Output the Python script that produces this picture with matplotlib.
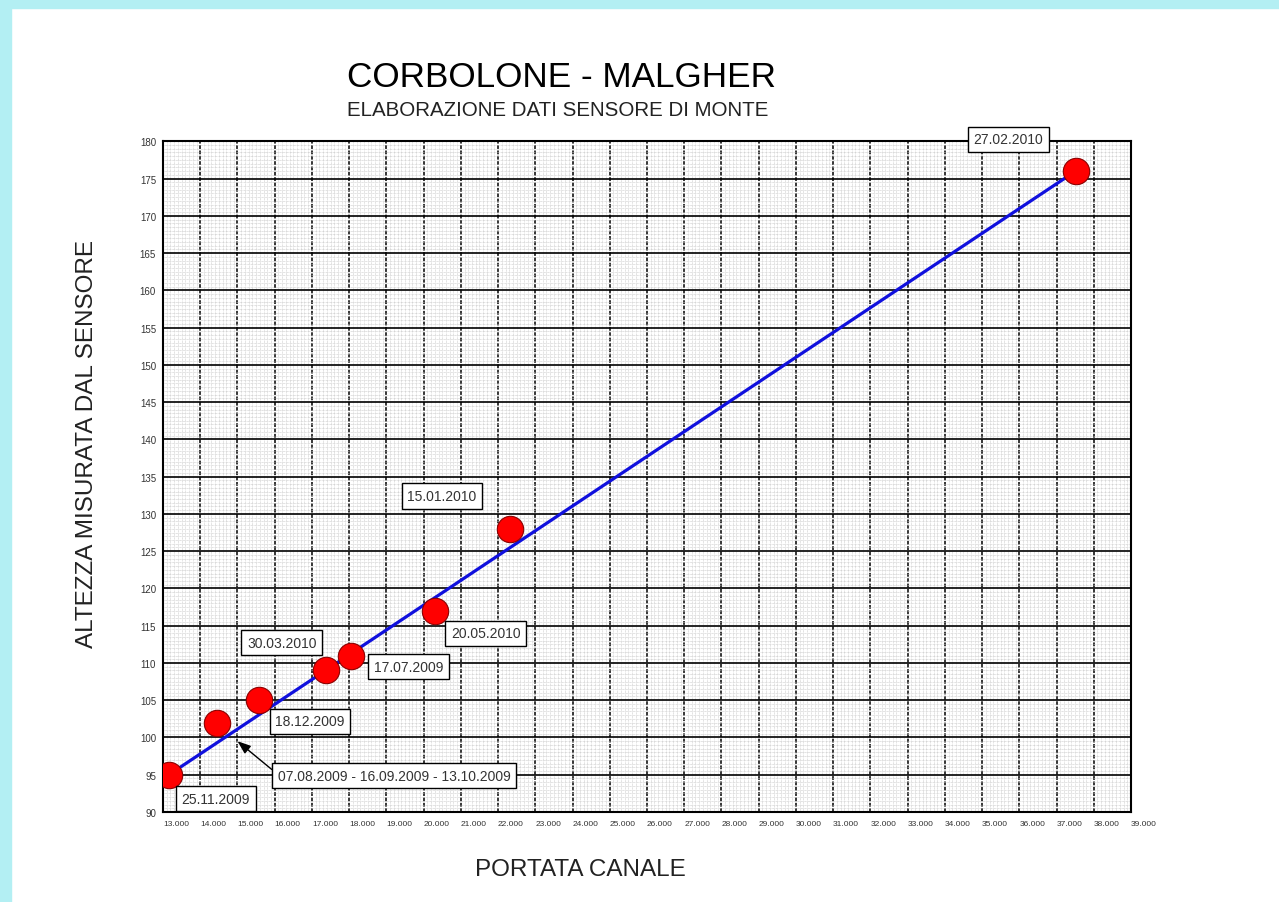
import numpy as np
import matplotlib.pyplot as plt
from matplotlib.ticker import MultipleLocator, FuncFormatter
from matplotlib.patches import Rectangle

plt.rcParams['font.family'] = ['Liberation Sans', 'DejaVu Sans']

# data
portata = [13.16, 14.45, 15.58, 17.38, 18.05, 20.30, 22.32, 37.51]
altezza = [95, 102, 105, 109, 111, 117, 128, 176]
date_lbl = ["25.11.2009", "07.08.2009 - 16.09.2009 - 13.10.2009", "18.12.2009",
            "30.03.2010", "17.07.2009", "20.05.2010", "15.01.2010", "27.02.2010"]

# label box centres (data coords)
lbl_x = [14.42, 19.21, 16.95, 16.19, 19.60, 21.67, 20.49, 35.70]
lbl_y = [91.8, 94.85, 102.2, 112.7, 109.5, 114.0, 132.4, 180.3]

fig = plt.figure(figsize=(12.79, 9.03), dpi=100)
fig.patch.set_facecolor('white')
# cyan frame strips
fig.add_artist(Rectangle((0, 1 - 9/903), 1, 9/903, transform=fig.transFigure,
                         color='#b3eff3', zorder=0))
fig.add_artist(Rectangle((0, 0), 11/1279, 1, transform=fig.transFigure,
                         color='#b3eff3', zorder=0))

ax = fig.add_axes([163/1279, 1 - 813/903, (1131 - 163)/1279, (813 - 142.3)/903])
ax.set_xlim(13, 39)
ax.set_ylim(90, 180)

ax.xaxis.set_major_locator(MultipleLocator(1))
ax.xaxis.set_minor_locator(MultipleLocator(0.1))
ax.yaxis.set_major_locator(MultipleLocator(5))
ax.yaxis.set_minor_locator(MultipleLocator(0.5))

ax.grid(which='minor', color='#c6c6c6', linestyle=(0, (1, 1)), linewidth=0.5)
ax.xaxis.grid(which='major', color='black', linestyle=(0, (2.5, 1)), linewidth=1.1)
ax.yaxis.grid(which='major', color='black', linestyle='-', linewidth=1.2)
ax.set_axisbelow(True)

for s in ax.spines.values():
    s.set_linewidth(1.5)

ax.tick_params(which='both', length=0)
ax.tick_params(axis='y', labelsize=7, labelcolor='#333333', pad=5)
ax.tick_params(axis='x', labelsize=6, labelcolor='#333333', pad=6)
ax.xaxis.set_major_formatter(FuncFormatter(lambda v, p: f"{int(v)}.000"))
for t in ax.get_xticklabels():
    t.set_horizontalalignment('left')

# trend line through the first and last measurement
ax.plot([portata[0], portata[-1]], [altezza[0], altezza[-1]], color='#1010dd',
        linewidth=2.3, zorder=3)
ax.plot(portata, altezza, 'o', markersize=19, markerfacecolor='#ff0000',
        markeredgecolor='#8b0000', markeredgewidth=0.8, zorder=4)

box = dict(boxstyle='square,pad=0.4', facecolor='white', edgecolor='black', linewidth=1)
for i, txt in enumerate(date_lbl):
    if i == 1:
        ax.annotate(txt, xy=(15.0, 99.5), xytext=(lbl_x[i], lbl_y[i]),
                    ha='center', va='center', fontsize=10, color='#333333',
                    bbox=box, zorder=6,
                    arrowprops=dict(arrowstyle='-|>,head_length=0.8,head_width=0.3',
                                    color='black', lw=1, shrinkA=0, shrinkB=0,
                                    relpos=(0, 0.6)))
    else:
        ax.text(lbl_x[i], lbl_y[i], txt, ha='center', va='center', fontsize=10,
                color='#333333', bbox=box, zorder=6, clip_on=False)

fig.text(347/1279, 1 - 87/903, "CORBOLONE - MALGHER", fontsize=25.3,
         ha='left', va='baseline')
fig.text(347/1279, 1 - 116.5/903, "ELABORAZIONE DATI SENSORE DI MONTE",
         fontsize=14.8, ha='left', va='baseline', color='#222222')
fig.text(580/1279, 1 - 870/903, "PORTATA CANALE", fontsize=17.5,
         ha='center', va='center', color='#222222')
fig.text(87/1279, 1 - 444/903, "ALTEZZA MISURATA DAL SENSORE", fontsize=17.5,
         ha='center', va='center', rotation=90, color='#222222')

fig.savefig('out.png', dpi=100)
